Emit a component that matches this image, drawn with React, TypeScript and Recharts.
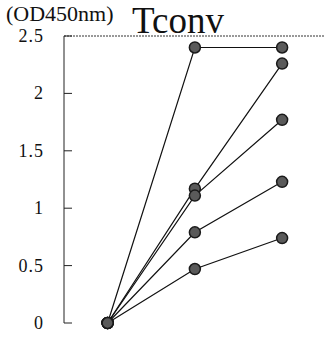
import { LineChart, Line, XAxis, YAxis, ReferenceLine } from "recharts";

const timepoints = [0, 1, 2];
const wellA = [0, 2.4, 2.4];
const wellB = [0, 1.17, 2.26];
const wellC = [0, 1.11, 1.77];
const wellD = [0, 0.79, 1.23];
const wellE = [0, 0.47, 0.74];
const yTicks = [0, 0.5, 1, 1.5, 2, 2.5];

const seriesKeys = ["a", "b", "c", "d", "e"];
const data = timepoints.map((t, i) => ({
  t,
  a: wellA[i],
  b: wellB[i],
  c: wellC[i],
  d: wellD[i],
  e: wellE[i],
}));

const serif = "'Liberation Serif', 'Times New Roman', serif";

const YTick = ({ x, y, payload }: { x: number; y: number; payload: { value: number } }) => (
  <g>
    <line x1={x} x2={x + 8} y1={y} y2={y} stroke="#222" strokeWidth={1} />
    <text
      x={x - 20}
      y={y + 6}
      textAnchor="end"
      fontSize={18}
      letterSpacing={1}
      fontFamily={serif}
      fill="#111"
    >
      {payload.value}
    </text>
  </g>
);

const Dot = ({ cx, cy }: { cx?: number; cy?: number }) => (
  <circle cx={cx} cy={cy} r={5.5} fill="#5a5a5a" stroke="#1a1a1a" strokeWidth={1.5} />
);

const App = () => {
  return (
    <div style={{ position: "absolute", left: 0, top: 0, width: 324, height: 338, background: "#fff" }}>
      <LineChart width={324} height={338} data={data} margin={{ top: 36, right: 0, bottom: 15, left: 0 }}>
        <XAxis
          dataKey="t"
          type="number"
          domain={[-0.5, 2.48]}
          tick={false}
          tickLine={false}
          height={0}
          axisLine={{ stroke: "#222", strokeDasharray: "2 1" }}
        />
        <YAxis
          domain={[0, 2.5]}
          ticks={yTicks}
          width={64}
          tickSize={0}
          tickMargin={0}
          tick={YTick}
          axisLine={{ stroke: "#222" }}
          interval={0}
        />
        <ReferenceLine y={2.5} stroke="#333" strokeDasharray="2 1" />
        {seriesKeys.map((k) => (
          <Line
            key={k}
            dataKey={k}
            type="linear"
            stroke="#111"
            strokeWidth={1.2}
            dot={<Dot />}
            activeDot={false}
            isAnimationActive={false}
          />
        ))}
      </LineChart>
      <span
        style={{
          position: "absolute",
          left: 6,
          top: 3,
          fontFamily: serif,
          fontSize: 22,
          lineHeight: 1,
          color: "#111",
          whiteSpace: "nowrap",
        }}
      >
        (OD450nm)
      </span>
      <span
        style={{
          position: "absolute",
          left: 132,
          top: 2,
          fontFamily: serif,
          fontSize: 37,
          lineHeight: 1,
          color: "#111",
          whiteSpace: "nowrap",
        }}
      >
        Tconv
      </span>
    </div>
  );
};

export default App;
